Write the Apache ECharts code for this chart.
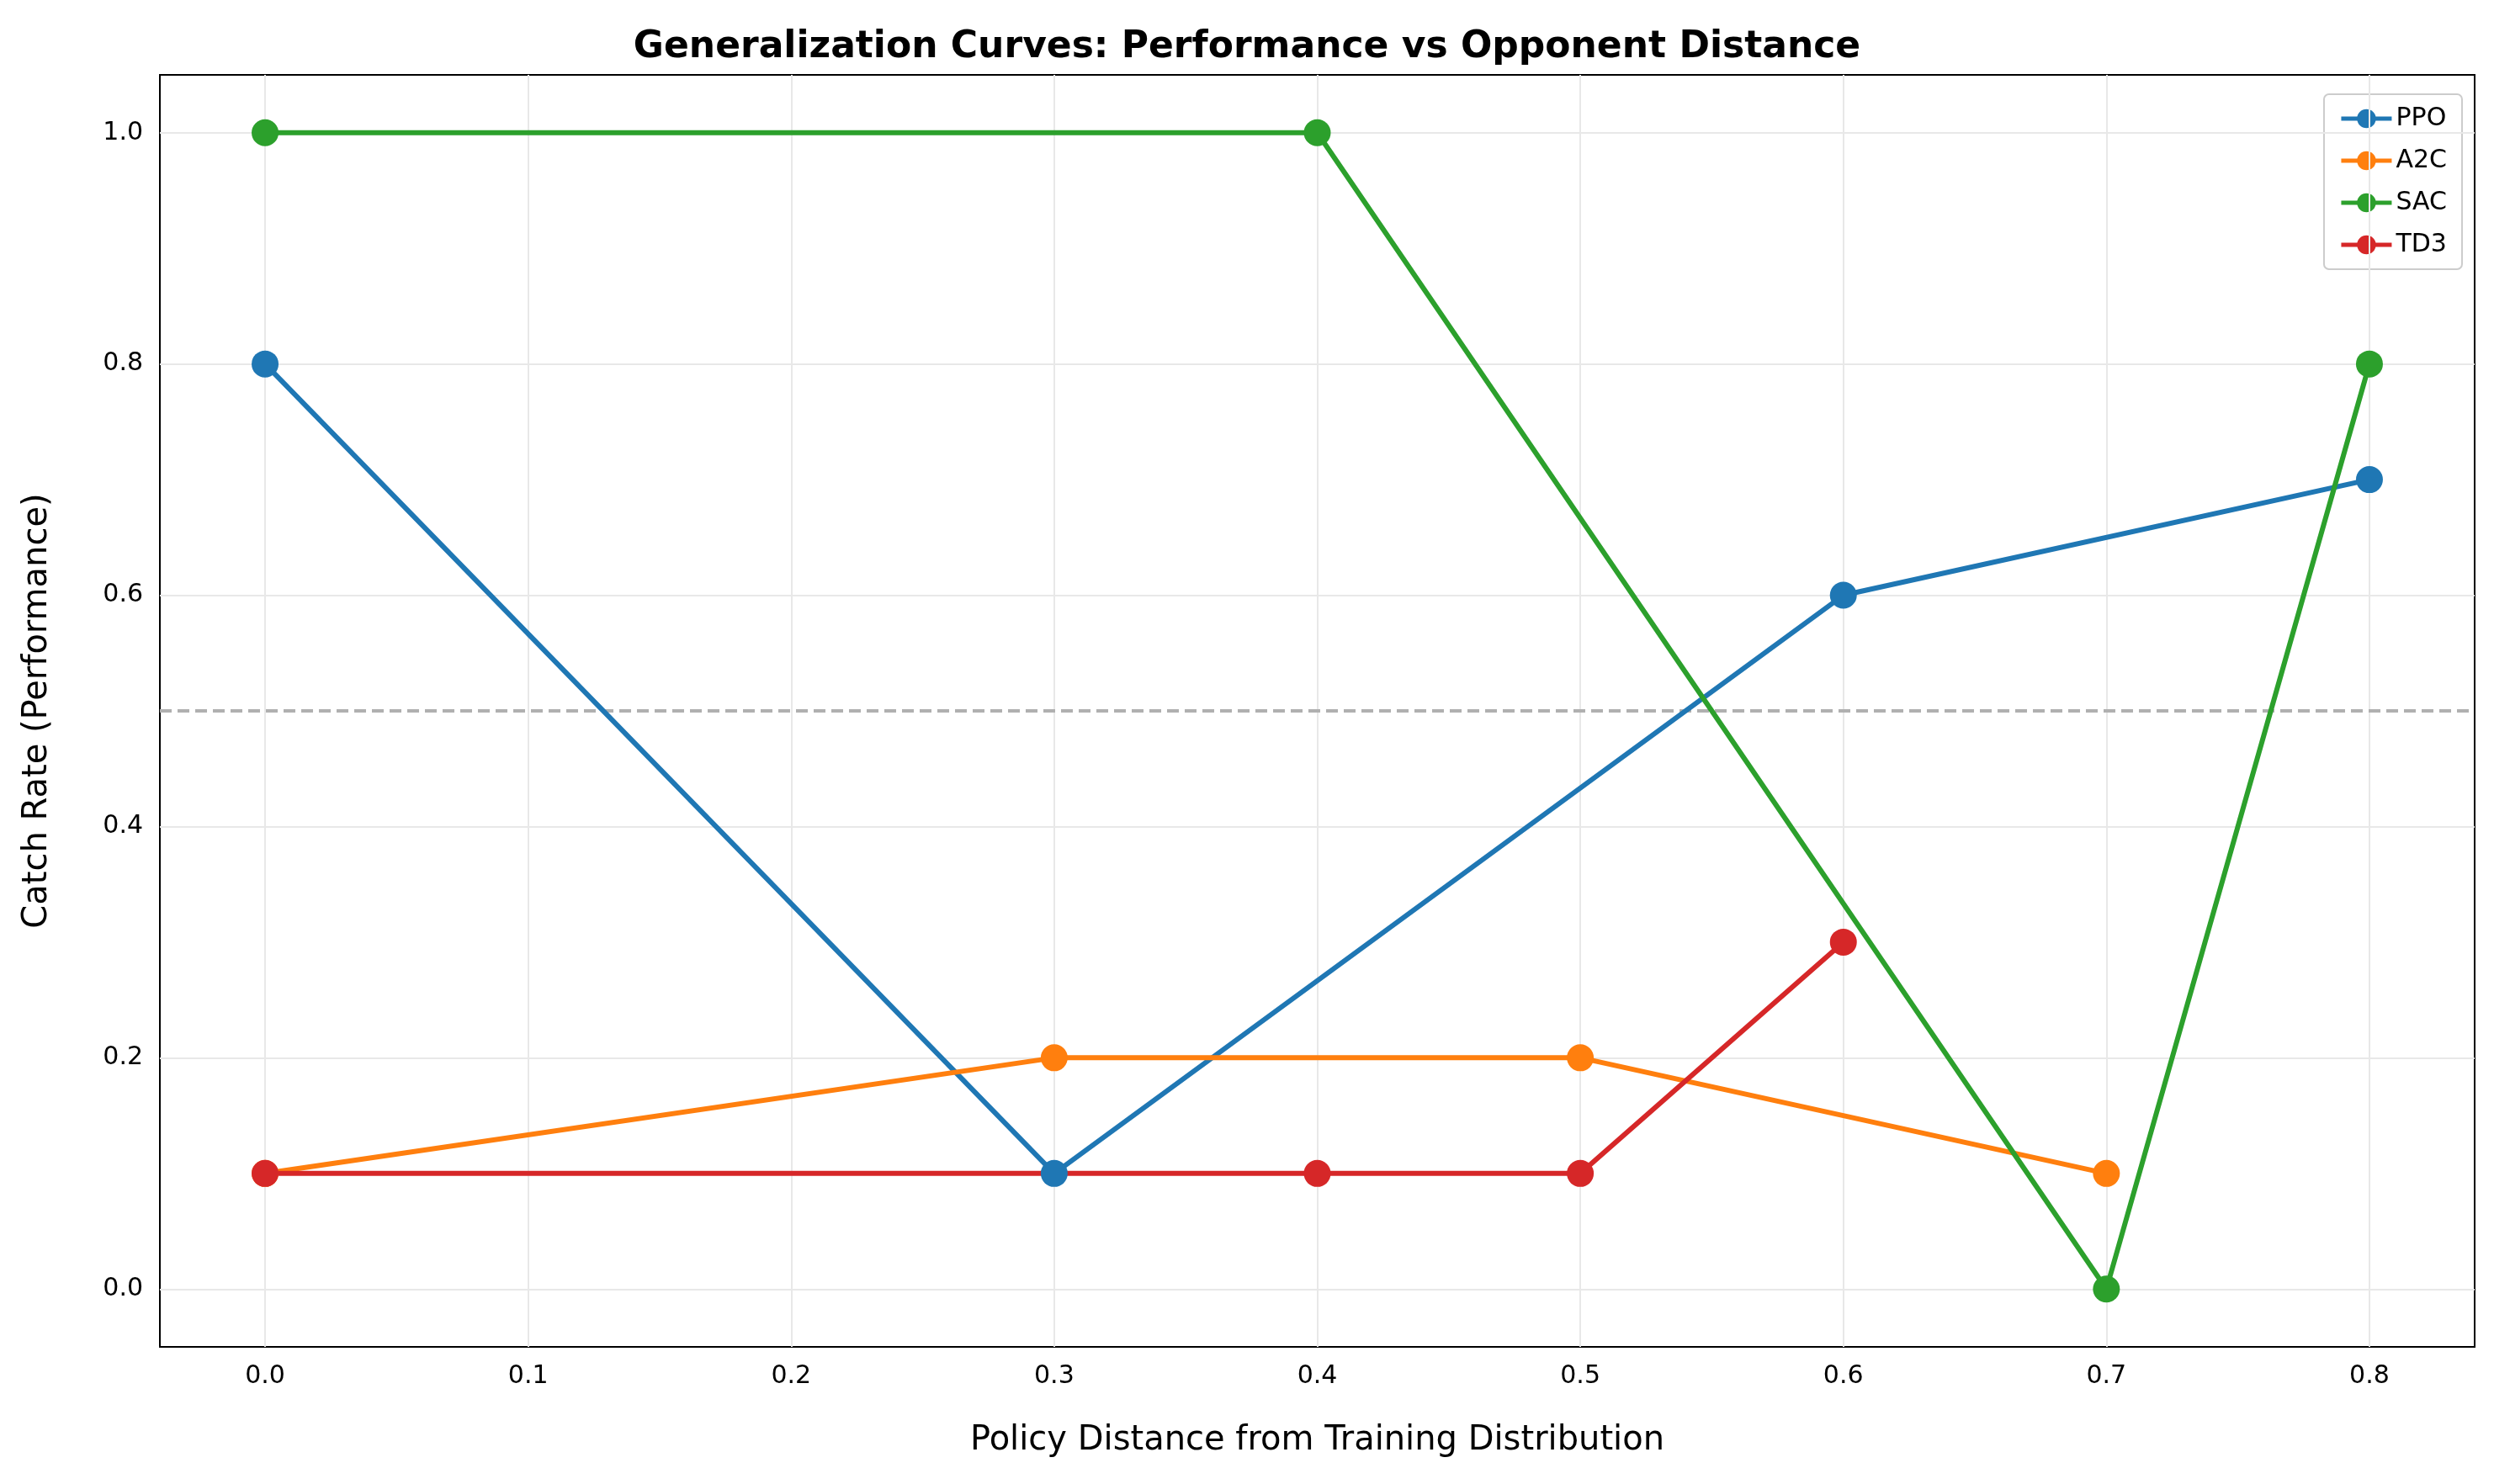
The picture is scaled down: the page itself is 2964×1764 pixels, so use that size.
<!DOCTYPE html>
<html><head><meta charset="utf-8">
<script src="https://cdn.jsdelivr.net/npm/echarts@6/dist/echarts.min.js"></script>
<style>html,body{margin:0;background:#fff}#c{width:2964px;height:1764px}</style>
</head><body><div id="c"></div>
<script>
const xTicks = [0, 0.1, 0.2, 0.3, 0.4, 0.5, 0.6, 0.7, 0.8];
const yTicks = [0, 0.2, 0.4, 0.6, 0.8, 1.0];
const ppoX = [0, 0.3, 0.6, 0.8], ppoY = [0.8, 0.1, 0.6, 0.7];
const a2cX = [0, 0.3, 0.5, 0.7], a2cY = [0.1, 0.2, 0.2, 0.1];
const sacX = [0, 0.4, 0.7, 0.8], sacY = [1.0, 1.0, 0.0, 0.8];
const td3X = [0, 0.4, 0.5, 0.6], td3Y = [0.1, 0.1, 0.1, 0.3];

const font = "DejaVu Sans";
const zip = (xs, ys) => xs.map((x, i) => [x, ys[i]]);
const gridLines = xTicks.map(v => ({ xAxis: v })).concat(yTicks.map(v => ({ yAxis: v })));

function line(name, color, xs, ys) {
  return {
    name, type: "line", data: zip(xs, ys), symbol: "circle", symbolSize: 32,
    lineStyle: { width: 6, color }, itemStyle: { color }, z: 5
  };
}

const chart = echarts.init(document.getElementById("c"));
chart.setOption({
  animation: false,
  textStyle: { fontFamily: font },
  title: {
    text: "Generalization Curves: Performance vs Opponent Distance",
    left: "center", top: 30,
    textStyle: { fontSize: 44, fontWeight: "bold", color: "#000", fontFamily: font }
  },
  grid: { left: 190, right: 23, top: 89, bottom: 163, show: true, borderColor: "#000", borderWidth: 2 },
  legend: {
    right: 38, top: 112, orient: "vertical", itemWidth: 60, itemHeight: 28, itemGap: 20,
    backgroundColor: "#fff", borderColor: "#ccc", borderWidth: 2, borderRadius: 6, padding: [14, 18],
    textStyle: { fontSize: 30, color: "#000" },
    lineStyle: { width: 5 },
    data: ["PPO", "A2C", "SAC", "TD3"]
  },
  xAxis: {
    type: "value", min: -0.04, max: 0.84,
    name: "Policy Distance from Training Distribution", nameLocation: "middle", nameGap: 92,
    nameTextStyle: { fontSize: 40, color: "#000" },
    axisLine: { show: false }, splitLine: { show: false },
    axisTick: { show: true, customValues: xTicks, length: 10, lineStyle: { color: "#000", width: 2 } },
    axisLabel: { customValues: xTicks, fontSize: 30, color: "#000", margin: 20, formatter: v => v.toFixed(1) }
  },
  yAxis: {
    type: "value", min: -0.05, max: 1.05,
    name: "Catch Rate (Performance)", nameLocation: "middle", nameGap: 125,
    nameTextStyle: { fontSize: 40, color: "#000" },
    axisLine: { show: false }, splitLine: { show: false },
    axisTick: { show: true, customValues: yTicks, length: 10, lineStyle: { color: "#000", width: 2 } },
    axisLabel: { customValues: yTicks, fontSize: 30, color: "#000", margin: 20, formatter: v => v.toFixed(1) }
  },
  series: [
    {
      type: "line", data: [], silent: true,
      markLine: {
        silent: true, symbol: "none", label: { show: false },
        lineStyle: { type: "solid", color: "#e8e8e8", width: 2 }, data: gridLines
      }
    },
    {
      type: "line", data: [], silent: true,
      markLine: {
        silent: true, symbol: "none", label: { show: false },
        lineStyle: { type: [14, 7], color: "#b0b0b0", width: 4 }, data: [{ yAxis: 0.5 }]
      }
    },
    line("PPO", "#1f77b4", ppoX, ppoY),
    line("A2C", "#ff7f0e", a2cX, a2cY),
    line("SAC", "#2ca02c", sacX, sacY),
    line("TD3", "#d62728", td3X, td3Y)
  ]
});
</script></body></html>
